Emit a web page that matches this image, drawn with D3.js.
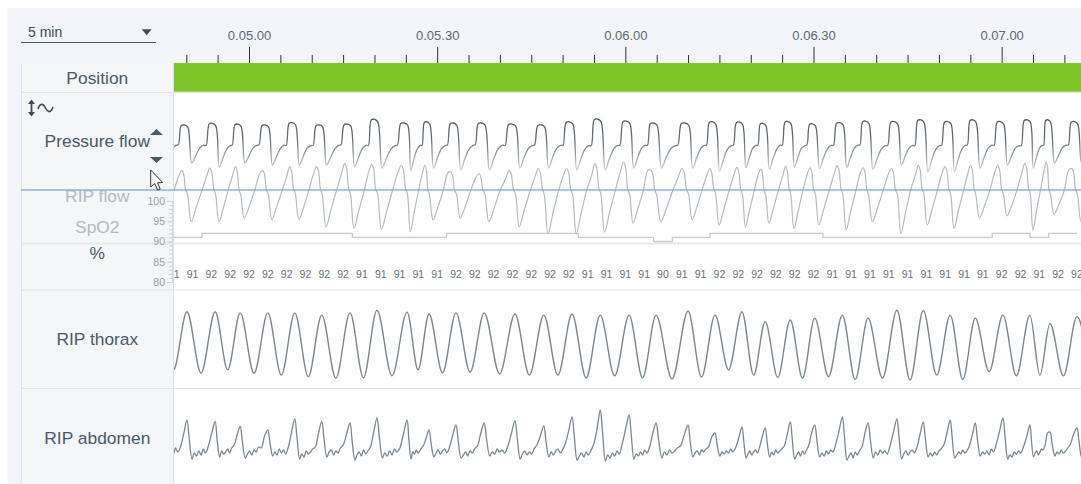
<!DOCTYPE html>
<html><head><meta charset="utf-8">
<script src="https://cdn.jsdelivr.net/npm/d3@7"></script>
<style>
body{margin:0;background:#fff;}
svg text{font-family:"Liberation Sans",Arial,Helvetica,sans-serif;}
</style>
</head><body>
<svg id="c" width="1081" height="484"></svg>
<script>
// ---------------- DATA ----------------
const windowLabel = "5 min";
const timeDomain = [288.04, 432.65];            // seconds shown
const timeMajorTicks = [300, 330, 360, 390, 420];
const timeMinorTicks = [290,295,305,310,315,320,325,335,340,345,350,355,365,370,375,380,385,395,400,405,410,415,425,430];
const positionStates = [{state: "Supine", start: 288.04, end: 432.65}];

// breath reference times (thorax peaks), seconds
const breathT = [285.8, 290.1, 294.6, 298.6, 303.0, 307.3, 311.6, 316.1, 320.4, 325.2, 328.7, 333.0, 337.5, 342.4, 347.0, 351.5, 356.0, 360.6, 364.9, 370.0, 374.3, 378.6, 382.3, 386.3, 390.2, 394.6, 398.7, 403.3, 407.5, 411.8, 415.8, 420.2, 424.5, 427.7, 432.0, 436.3];

// RIP thorax: peak and trough per breath
const thoraxPhase = [0, 0.5];
const thoraxPeak = [82, 85, 85, 82, 82, 82, 76, 82, 89, 84, 79, 82, 82, 79, 76, 79, 76, 76, 76, 87, 76, 85, 59, 63, 68, 76, 68, 89, 88, 76, 68, 76, 76, 54, 72];
const thoraxTrough = [-68, -77, -68, -77, -82, -86, -90, -89, -84, -68, -76, -74, -79, -82, -82, -89, -84, -89, -92, -87, -68, -82, -88, -90, -86, -93, -90, -95, -82, -93, -73, -84, -82, -84, -84];

// Pressure flow: values per breath at phases
const pressurePhase = [-0.32, -0.21, -0.09, 0.03, 0.17, 0.31, 0.46, 0.60];
const pressureFlow = [
[-4,68,70,62,-75,-46,-16,-5],[-3,66,68,60,-68,-42,-14,-4],[-5,72,74,64,-82,-50,-18,-6],[-4,69,71,63,-68,-44,-15,-5],
[-3,66,68,60,-75,-47,-17,-4],[-5,74,76,68,-75,-45,-14,-6],[-4,66,68,61,-75,-48,-18,-5],[-3,69,71,64,-82,-50,-16,-4],
[-6,86,88,78,-86,-52,-19,-6],[-4,73,75,67,-95,-55,-18,-5],[-5,77,79,70,-86,-50,-17,-6],[-4,73,75,66,-93,-54,-19,-5],
[-3,73,75,67,-93,-53,-16,-4],[-5,69,71,63,-86,-50,-17,-6],[-4,66,68,61,-86,-49,-15,-5],[-5,77,79,71,-93,-54,-18,-6],
[-6,87,89,79,-93,-55,-19,-5],[-4,80,82,73,-86,-51,-16,-4],[-5,73,75,67,-86,-50,-17,-6],[-4,73,75,66,-86,-52,-18,-5],
[-5,77,79,70,-97,-56,-19,-6],[-4,76,78,69,-85,-50,-16,-5],[-5,72,74,65,-90,-53,-18,-4],[-4,78,80,72,-82,-48,-15,-6],
[-3,70,72,64,-88,-52,-17,-5],[-5,74,76,68,-84,-50,-16,-4],[-4,80,82,73,-90,-54,-18,-6],[-5,78,80,71,-75,-45,-15,-5],
[-6,84,86,77,-99,-58,-20,-6],[-5,78,80,72,-99,-57,-19,-5],[-4,84,86,76,-86,-51,-16,-4],[-5,78,80,71,-75,-46,-15,-6],
[-6,84,86,77,-86,-52,-18,-5],[-5,84,86,76,-68,-42,-14,-4],[-4,78,80,71,-68,-43,-15,-5]
];

// RIP flow: values per breath at phases
const ripFlowPhase = [-0.19, -0.12, -0.05, 0.02, 0.15, 0.33, 0.52, 0.70];
const ripFlow = [
[80,68,24,10,-70,-28,20,62],[77,66,22,12,-66,-26,18,60],[83,71,26,10,-66,-27,22,64],[87,74,24,8,-56,-22,20,66],
[77,66,22,10,-60,-24,18,60],[87,75,26,12,-60,-25,22,68],[87,74,24,8,-80,-32,20,68],[96,82,26,10,-85,-34,18,74],
[93,80,24,12,-87,-35,22,72],[91,78,26,10,-94,-38,20,70],[91,77,22,8,-61,-25,18,70],[72,61,20,10,-56,-23,20,56],
[68,58,22,12,-66,-27,22,54],[77,66,24,10,-80,-32,18,60],[82,70,26,8,-100,-40,20,64],[82,71,24,10,-100,-40,22,64],
[96,82,26,12,-95,-38,20,74],[100,85,24,10,-70,-28,18,78],[77,66,22,8,-66,-27,20,60],[82,70,24,10,-60,-24,22,64],
[82,70,26,12,-75,-30,20,64],[85,73,24,10,-80,-32,18,66],[80,68,22,8,-70,-28,20,62],[88,75,26,10,-85,-34,22,68],
[84,72,24,12,-75,-30,20,66],[90,77,26,10,-88,-35,18,70],[84,72,24,8,-66,-27,20,66],[82,70,22,10,-99,-40,22,64],
[91,78,26,12,-75,-30,20,70],[87,74,24,10,-85,-34,18,68],[91,78,26,8,-56,-23,20,70],[91,78,24,10,-50,-20,22,70],
[96,82,26,12,-89,-36,20,74],[100,85,24,10,-45,-18,18,78],[82,70,22,10,-65,-26,20,64]
];

// RIP abdomen: values per breath at phases
const abdomenPhase = [0, 0.08, 0.18, 0.26, 0.34, 0.42, 0.50, 0.58, 0.66, 0.76, 0.88];
const abdomen = [
[80,46,8,20,14,24,16,28,20,30,56],[84,48,6,18,12,22,14,26,18,32,58],[81,44,10,22,16,20,26,18,28,34,55],
[71,40,8,16,22,14,24,20,30,28,52],[64,38,12,20,14,26,18,24,16,30,60],[86,50,6,16,10,22,16,20,26,30,58],
[81,46,10,20,24,14,22,18,28,34,56],[78,42,4,14,20,12,24,16,22,30,60],[88,50,8,18,12,22,14,26,20,28,56],
[84,46,6,20,16,24,18,22,28,34,50],[64,36,10,18,24,16,22,26,18,30,54],[74,42,8,14,20,12,22,18,26,32,58],
[78,44,12,20,16,26,20,24,18,30,56],[82,48,6,16,22,14,20,16,26,34,52],[72,40,10,20,14,22,26,18,24,36,62],
[90,52,4,12,18,10,20,14,22,34,64],[104,60,2,14,8,18,12,22,16,36,66],[94,54,6,16,12,20,14,24,18,30,58],
[78,44,8,20,14,24,18,22,28,32,54],[74,40,10,18,22,14,24,20,26,30,50],[58,34,12,20,16,22,18,26,20,28,48],
[70,40,8,16,22,14,20,24,18,30,52],[68,38,10,20,14,24,18,22,26,32,56],[80,46,6,14,20,12,22,16,24,34,60],
[74,42,10,18,12,22,16,24,20,36,62],[90,52,4,12,18,8,20,14,22,30,58],[78,44,8,20,14,24,18,22,16,32,60],
[86,50,6,16,22,14,20,24,18,30,56],[80,46,10,18,12,20,14,22,26,34,58],[84,48,8,14,20,16,24,18,22,32,54],
[78,44,12,20,16,22,14,26,20,36,62],[88,50,6,14,10,20,16,22,18,30,50],[74,42,10,18,22,14,20,26,24,34,58],
[60,36,12,20,16,24,18,22,28,36,56],[68,40,8,16,20,14,22,18,24,30,54]
];

// SpO2 (%) sampled every 3 s
const spo2Start = 288;
const spo2Step = 3;
const spo2Values = [91,91,92,92,92,92,92,92,92,92,91,91,91,91,91,92,92,92,92,92,92,92,91,91,91,91,90,91,91,92,92,92,92,92,92,91,91,91,91,91,91,91,91,91,92,92,91,92,92];
const spo2AxisTicks = [80, 85, 90, 95, 100];

// ---------------- DRAW ----------------
const W = 1081, H = 484;
const svg = d3.select("#c");
const defs = svg.append("defs");
defs.append("clipPath").attr("id","plotClip").append("rect")
  .attr("x",174).attr("y",63).attr("width",W-174).attr("height",H-63);
const grad = defs.append("linearGradient").attr("id","pfGrad")
  .attr("gradientUnits","userSpaceOnUse").attr("x1",0).attr("x2",0).attr("y1",118).attr("y2",168);
grad.append("stop").attr("offset","0").attr("stop-color","#4a5662");
grad.append("stop").attr("offset","0.45").attr("stop-color","#66727d");
grad.append("stop").attr("offset","1").attr("stop-color","#c3c9cf");

// backgrounds
svg.append("rect").attr("width",W).attr("height",H).attr("fill","#fff");
svg.append("rect").attr("x",7).attr("y",8).attr("width",W-7).attr("height",55).attr("fill","#f3f5fa");
svg.append("rect").attr("x",7).attr("y",63).attr("width",15).attr("height",H-63).attr("fill","#f3f5fa");
svg.append("rect").attr("x",22).attr("y",63).attr("width",151).attr("height",H-63).attr("fill","#f5f6f8");
svg.append("line").attr("x1",21.5).attr("x2",21.5).attr("y1",63).attr("y2",H).attr("stroke","#dde1e6");
svg.append("line").attr("x1",173.5).attr("x2",173.5).attr("y1",63).attr("y2",H).attr("stroke","#dde1e6");

// row separators
[[92.5,"#dfe3e8",1],[243.5,"#e6e9ec",2],[290,"#dfe2e6",1],[388.5,"#dfe2e6",1]].forEach(([y,c,w])=>{
  svg.append("line").attr("x1",22).attr("x2",W).attr("y1",y).attr("y2",y).attr("stroke",c).attr("stroke-width",w);
});

// x scale & time axis
const x = d3.scaleLinear().domain(timeDomain).range([174, W]);
const pad2 = n => String(n).padStart(2,"0");
const fmtTime = s => `${Math.floor(s/3600)}.${pad2(Math.floor(s/60)%60)}.${pad2(Math.round(s)%60)}`;
const gMinor = svg.append("g").attr("transform","translate(0,63)")
  .call(d3.axisTop(x).tickValues(timeMinorTicks).tickSize(8).tickFormat(""));
const gMajor = svg.append("g").attr("transform","translate(0,63)")
  .call(d3.axisTop(x).tickValues(timeMajorTicks).tickSize(16).tickPadding(7).tickFormat(fmtTime));
[gMinor,gMajor].forEach(g=>{
  g.select(".domain").remove();
  g.selectAll(".tick line").attr("stroke","#333");
  g.selectAll(".tick text").attr("fill","#5b6773").style("font-size","13px")
    .style("font-family","'Liberation Sans',Arial,sans-serif");
});

// window selector
svg.append("text").attr("x",28).attr("y",37).text(windowLabel)
  .attr("fill","#3f4b57").style("font-size","14px");
svg.append("path").attr("d","M141.7,29.3 L151.7,29.3 L146.7,35.3 Z").attr("fill","#3f4b57");
svg.append("line").attr("x1",21).attr("x2",156).attr("y1",42.5).attr("y2",42.5).attr("stroke","#4c5a67");

// Position row
svg.append("g").selectAll("rect").data(positionStates).join("rect")
  .attr("x",d=>x(d.start)).attr("width",d=>x(d.end)-x(d.start))
  .attr("y",63).attr("height",28.7).attr("fill","#7ec528");

// labels
const labelData = [
  {t:"Position", y:84, c:"#4b5966"},
  {t:"Pressure flow", y:147, c:"#4b5966"},
  {t:"RIP flow", y:201.5, c:"#b3bac1"},
  {t:"SpO2", y:233, c:"#b3bac1"},
  {t:"%", y:259, c:"#4b5966"},
  {t:"RIP thorax", y:345, c:"#4b5966"},
  {t:"RIP abdomen", y:444, c:"#4b5966"}
];
svg.append("g").selectAll("text").data(labelData).join("text")
  .attr("x",97.3).attr("y",d=>d.y).attr("text-anchor","middle")
  .attr("fill",d=>d.c).style("font-size","17.4px").text(d=>d.t);

// icons
const ic = svg.append("g").attr("fill","none").attr("stroke","#3f4b57");
ic.append("line").attr("x1",31.5).attr("x2",31.5).attr("y1",103).attr("y2",113).attr("stroke-width",1.8);
ic.append("path").attr("d","M28,104 L35,104 L31.5,99.5 Z M28,112 L35,112 L31.5,116.5 Z").attr("fill","#3f4b57").attr("stroke","none");
ic.append("path").attr("d","M38,109 C40,103 43,103 45.5,108 C48,113 51,113 53,107").attr("stroke-width",1.6);
svg.append("path").attr("d","M150,135 L163,135 L156.5,129 Z M150,157 L163,157 L156.5,163 Z").attr("fill","#4b5966");

// build series points from breath data
function buildSeries(rows, phases){
  const pts = [];
  rows.forEach((row,i)=>{
    const T = breathT[i];
    const Pn = breathT[i+1]-T;
    const Pp = i>0 ? T-breathT[i-1] : Pn;
    row.forEach((v,j)=>{
      const ph = phases[j];
      pts.push({t: T + ph*(ph<0?Pp:Pn), v});
    });
  });
  return pts;
}
const thoraxRows = thoraxPeak.map((p,i)=>[p, thoraxTrough[i]]);

const pfY = d3.scaleLinear([-100,100],[172,116]);
const rfY = d3.scaleLinear([-100,100],[234,162]);
const spo2Y = d3.scaleLinear([80,100],[282,201]);
const thY = d3.scaleLinear([-100,100],[382,306]);
const abY = d3.scaleLinear([0,100],[462,412]);

const plot = svg.append("g").attr("clip-path","url(#plotClip)");

// SpO2 line
const spo2Pts = spo2Values.map((v,k)=>({t:spo2Start+k*spo2Step, v}));
plot.append("path").datum(spo2Pts)
  .attr("d", d3.line().x(d=>x(d.t)).y(d=>spo2Y(d.v)).curve(d3.curveStep))
  .attr("fill","none").attr("stroke","#c6cbd1").attr("stroke-width",1.3);

// RIP flow
plot.append("path").datum(buildSeries(ripFlow, ripFlowPhase))
  .attr("d", d3.line().x(d=>x(d.t)).y(d=>rfY(d.v)).curve(d3.curveCatmullRom.alpha(0.5)))
  .attr("fill","none").attr("stroke","#b4bbc3").attr("stroke-width",1.2);

// Pressure flow
plot.append("path").datum(buildSeries(pressureFlow, pressurePhase))
  .attr("d", d3.line().x(d=>x(d.t)).y(d=>pfY(d.v)).curve(d3.curveCatmullRom.alpha(0.5)))
  .attr("fill","none").attr("stroke","url(#pfGrad)").attr("stroke-width",1.3);

// thorax
plot.append("path").datum(buildSeries(thoraxRows, thoraxPhase))
  .attr("d", d3.line().x(d=>x(d.t)).y(d=>thY(d.v)).curve(d3.curveMonotoneX))
  .attr("fill","none").attr("stroke","#7a8792").attr("stroke-width",1.4);

// abdomen
plot.append("path").datum(buildSeries(abdomen, abdomenPhase))
  .attr("d", d3.line().x(d=>x(d.t)).y(d=>abY(d.v)).curve(d3.curveCatmullRom.alpha(0.5)))
  .attr("fill","none").attr("stroke","#7a8792").attr("stroke-width",1.3).attr("stroke-linejoin","round");

// SpO2 value texts
plot.append("g").selectAll("text").data(spo2Pts).join("text")
  .attr("x",d=>x(d.t)).attr("y",278).attr("text-anchor","middle")
  .attr("fill","#67717b").style("font-size","10.5px").text(d=>d.v);

// SpO2 axis
const gS = svg.append("g").attr("transform","translate(172,0)")
  .call(d3.axisLeft(spo2Y).tickValues(d3.range(80,101,1)).tickSize(3).tickFormat(""));
const gS2 = svg.append("g").attr("transform","translate(172,0)")
  .call(d3.axisLeft(spo2Y).tickValues(spo2AxisTicks).tickSize(5).tickPadding(2));
[gS,gS2].forEach(g=>{
  g.select(".domain").attr("stroke","#d3d7db");
  g.selectAll(".tick line").attr("stroke","#cdd2d7");
  g.selectAll(".tick text").attr("fill","#9aa1a8").style("font-size","10.5px")
   .style("font-family","'Liberation Sans',Arial,sans-serif");
});

// cursor line
svg.append("line").attr("x1",21).attr("x2",W).attr("y1",190).attr("y2",190)
  .attr("stroke","#85a9dd").attr("stroke-width",1.5).attr("opacity",0.9);

// mouse pointer
svg.append("path").attr("transform","translate(150.7,170)")
  .attr("d","M0,0 V17 L4,13.5 L7,20 L9.5,19 L6.8,12.8 L12,12.5 Z")
  .attr("fill","#fff").attr("stroke","#333").attr("stroke-width",1).attr("stroke-linejoin","round");
</script>
</body></html>
